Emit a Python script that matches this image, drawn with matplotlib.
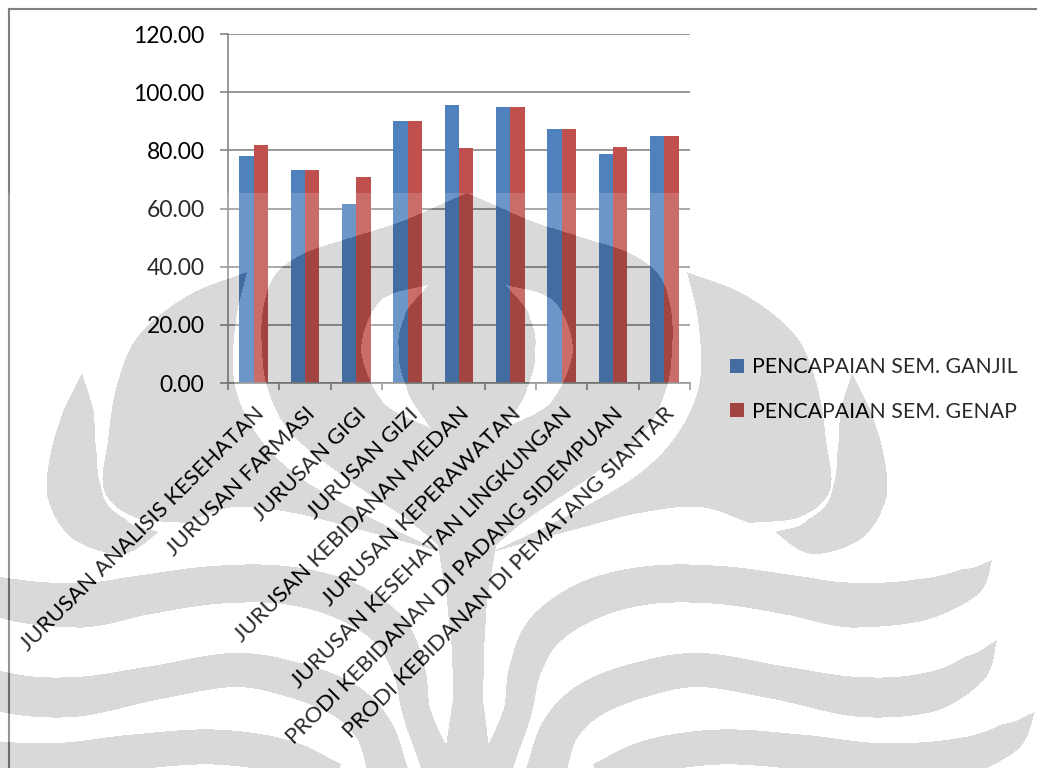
import numpy as np
import matplotlib
matplotlib.use("Agg")
import matplotlib.pyplot as plt
from matplotlib.lines import Line2D
from matplotlib.patches import Patch
from matplotlib.path import Path
from matplotlib.ticker import FormatStrFormatter

# ---- chart data -------------------------------------------------------
categories = [
    "JURUSAN ANALISIS KESEHATAN",
    "JURUSAN FARMASI",
    "JURUSAN GIGI",
    "JURUSAN GIZI",
    "JURUSAN KEBIDANAN MEDAN",
    "JURUSAN KEPERAWATAN",
    "JURUSAN KESEHATAN LINGKUNGAN",
    "PRODI KEBIDANAN DI PADANG SIDEMPUAN",
    "PRODI KEBIDANAN DI PEMATANG SIANTAR",
]
ganjil = [78.0, 73.2, 61.7, 90.0, 95.7, 94.9, 87.4, 78.8, 84.9]
genap = [81.7, 73.2, 70.8, 90.0, 80.8, 94.9, 87.4, 81.3, 84.9]
series_names = ["PENCAPAIAN SEM. GANJIL", "PENCAPAIAN SEM. GENAP"]
y_ticks = [0, 20, 40, 60, 80, 100, 120]

BLUE = "#4F81BD"
RED = "#C0504D"
GRID = "#868686"
FONT = "Lato"

W, H = 1037, 768

# ---- watermark (logo drawn over the page), pixel coords, y down --------
CX = 467


def mir(pts):
    return [(2 * CX - x, y) for x, y in pts]


def crspline(pts, n=30):
    p = np.asarray(pts, float)
    p = np.vstack([2 * p[0] - p[1], p, 2 * p[-1] - p[-2]])
    t = np.linspace(0, 1, n, endpoint=False)[:, None]
    out = []
    for i in range(1, len(p) - 2):
        p0, p1, p2, p3 = p[i - 1], p[i], p[i + 1], p[i + 2]
        out.append(0.5 * (2 * p1 + (p2 - p0) * t
                          + (2 * p0 - 5 * p1 + 4 * p2 - p3) * t ** 2
                          + (3 * p1 - p0 - 3 * p2 + p3) * t ** 3))
    out.append(p[-2][None])
    return np.vstack(out)


def band(pts, widths, n=30):
    c = crspline(pts, n)
    s = np.arange(len(c)) / n
    w = np.interp(s, np.arange(len(pts)), widths) / 2
    d = np.gradient(c, axis=0)
    d /= np.hypot(d[:, 0], d[:, 1])[:, None] + 1e-9
    nrm = np.c_[-d[:, 1], d[:, 0]]
    return np.vstack([c + nrm * w[:, None], (c - nrm * w[:, None])[::-1]])


def outline(*segments):
    return np.vstack([crspline(s) for s in segments])


dome_left = [(467, 193), (435, 207), (400, 222), (350, 238), (305, 253),
             (275, 275), (263, 310), (262, 350), (268, 390), (290, 432),
             (340, 474), (405, 518), (444, 550)]
hole = ([(428, 285), (392, 310), (380, 350), (395, 395), (430, 428)],
        [0, 30, 38, 28, 0])
stem = ([(467, 540), (467, 600), (468, 650), (468, 700), (467, 775)],
        [60, 40, 32, 30, 50])
ring_outer = [(687, 272), (745, 295), (795, 335), (817, 385), (826, 440),
              (830, 490), (800, 517), (750, 523)]
ring_lower = [(750, 523), (700, 507), (640, 513), (573, 530), (492, 552)]
ring_inner = [(492, 552), (573, 513), (640, 473), (680, 430), (700, 380),
              (698, 320), (687, 272)]
tendril = ([(852, 373), (855, 410), (860, 450), (860, 490), (845, 520),
            (810, 537), (775, 532)], [0, 30, 45, 55, 50, 35, 0])
waves = [
    ([(490, 775), (505, 745), (518, 710), (525, 670), (545, 630), (590, 600),
      (650, 585), (720, 585), (790, 595), (850, 605), (920, 600), (970, 582),
      (992, 560)], [40, 30, 28, 32, 38, 40, 38, 38, 40, 45, 42, 30, 0]),
    ([(545, 775), (560, 730), (590, 700), (640, 680), (700, 670), (780, 683),
      (860, 697), (930, 692), (975, 668), (997, 640)],
     [40, 38, 38, 36, 34, 34, 40, 40, 30, 0]),
    ([(600, 780), (650, 757), (720, 747), (800, 752), (880, 762), (960, 757),
      (1010, 737), (1035, 712)], [35, 35, 35, 35, 38, 38, 30, 0]),
]


def watermark_rgba():
    yy, xx = np.mgrid[0:H, 0:W]
    pts = np.c_[xx.ravel() + 0.5, yy.ravel() + 0.5]

    def inside(poly):
        return Path(poly).contains_points(pts).reshape(H, W)

    gray = inside(np.vstack([crspline(dome_left), [(CX, 560)],
                             crspline(mir(dome_left)[::-1])]))
    holes = inside(band(*hole)) | inside(band(mir(hole[0]), hole[1]))
    gray &= ~holes
    gray |= inside(band(*stem))
    ring = outline(ring_outer, ring_lower, ring_inner)
    gray |= inside(ring) | inside(np.c_[2 * CX - ring[:, 0], ring[:, 1]])
    for pts_, w_ in [tendril] + waves:
        gray |= inside(band(pts_, w_)) | inside(band(mir(pts_), w_))

    rgba = np.zeros((H, W, 4))
    rgba[(yy >= 193) & ~gray] = (1, 1, 1, 0.17)
    rgba[gray] = (0, 0, 0, 0.15)
    return rgba


# ---- figure -----------------------------------------------------------
plt.rcParams["font.family"] = FONT

fig = plt.figure(figsize=(W / 100, H / 100), dpi=100)
ax = fig.add_axes([228 / W, 1 - 383 / H, (690 - 228) / W, (383 - 34) / H])

x = np.arange(len(categories))
bw = 0.28
ax.bar(x - bw / 2, ganjil, bw, color=BLUE, label=series_names[0])
ax.bar(x + bw / 2, genap, bw, color=RED, label=series_names[1])

ax.set_xlim(-0.5, len(categories) - 0.5)
ax.set_ylim(0, 120)
ax.set_yticks(y_ticks)
ax.yaxis.set_major_formatter(FormatStrFormatter("%.2f"))
ax.yaxis.grid(True, color=GRID, lw=1.2)
ax.set_axisbelow(True)

for side in ("top", "right"):
    ax.spines[side].set_visible(False)
for side in ("left", "bottom"):
    ax.spines[side].set_color(GRID)
    ax.spines[side].set_linewidth(1.2)

ax.tick_params(axis="y", length=6, width=1.2, color=GRID, pad=11,
               labelsize=16.5, labelcolor="black")
ax.set_xticks(np.arange(len(categories) + 1) - 0.5)
ax.set_xticklabels([])
ax.tick_params(axis="x", which="major", length=5, width=1.2, color=GRID)
ax.set_xticks(x, categories, minor=True)
ax.tick_params(axis="x", which="minor", length=0, pad=15, labelsize=16)
for lbl in ax.get_xticklabels(minor=True):
    lbl.set_rotation(45)
    lbl.set_ha("right")
    lbl.set_va("top")
    lbl.set_rotation_mode("anchor")

handles = [Patch(facecolor=BLUE), Patch(facecolor=RED)]
fig.legend(handles, series_names, loc="center left",
           bbox_to_anchor=(730 / W, 1 - 389.5 / H), frameon=False,
           fontsize=15.3, handlelength=0.65, handleheight=0.65,
           handletextpad=0.4, labelspacing=1.15, borderaxespad=0, borderpad=0)

# outer chart-area border (partly cropped in the source)
fig.add_artist(Line2D([8.5 / W, 8.5 / W], [0, 1 - 8.5 / H],
                      transform=fig.transFigure, color="#808080", lw=1.5))
fig.add_artist(Line2D([8.5 / W, 1], [1 - 8.5 / H, 1 - 8.5 / H],
                      transform=fig.transFigure, color="#808080", lw=1.5))

fig.figimage(watermark_rgba(), xo=0, yo=0, zorder=10, origin="upper")

fig.savefig("out.png", dpi=100)
